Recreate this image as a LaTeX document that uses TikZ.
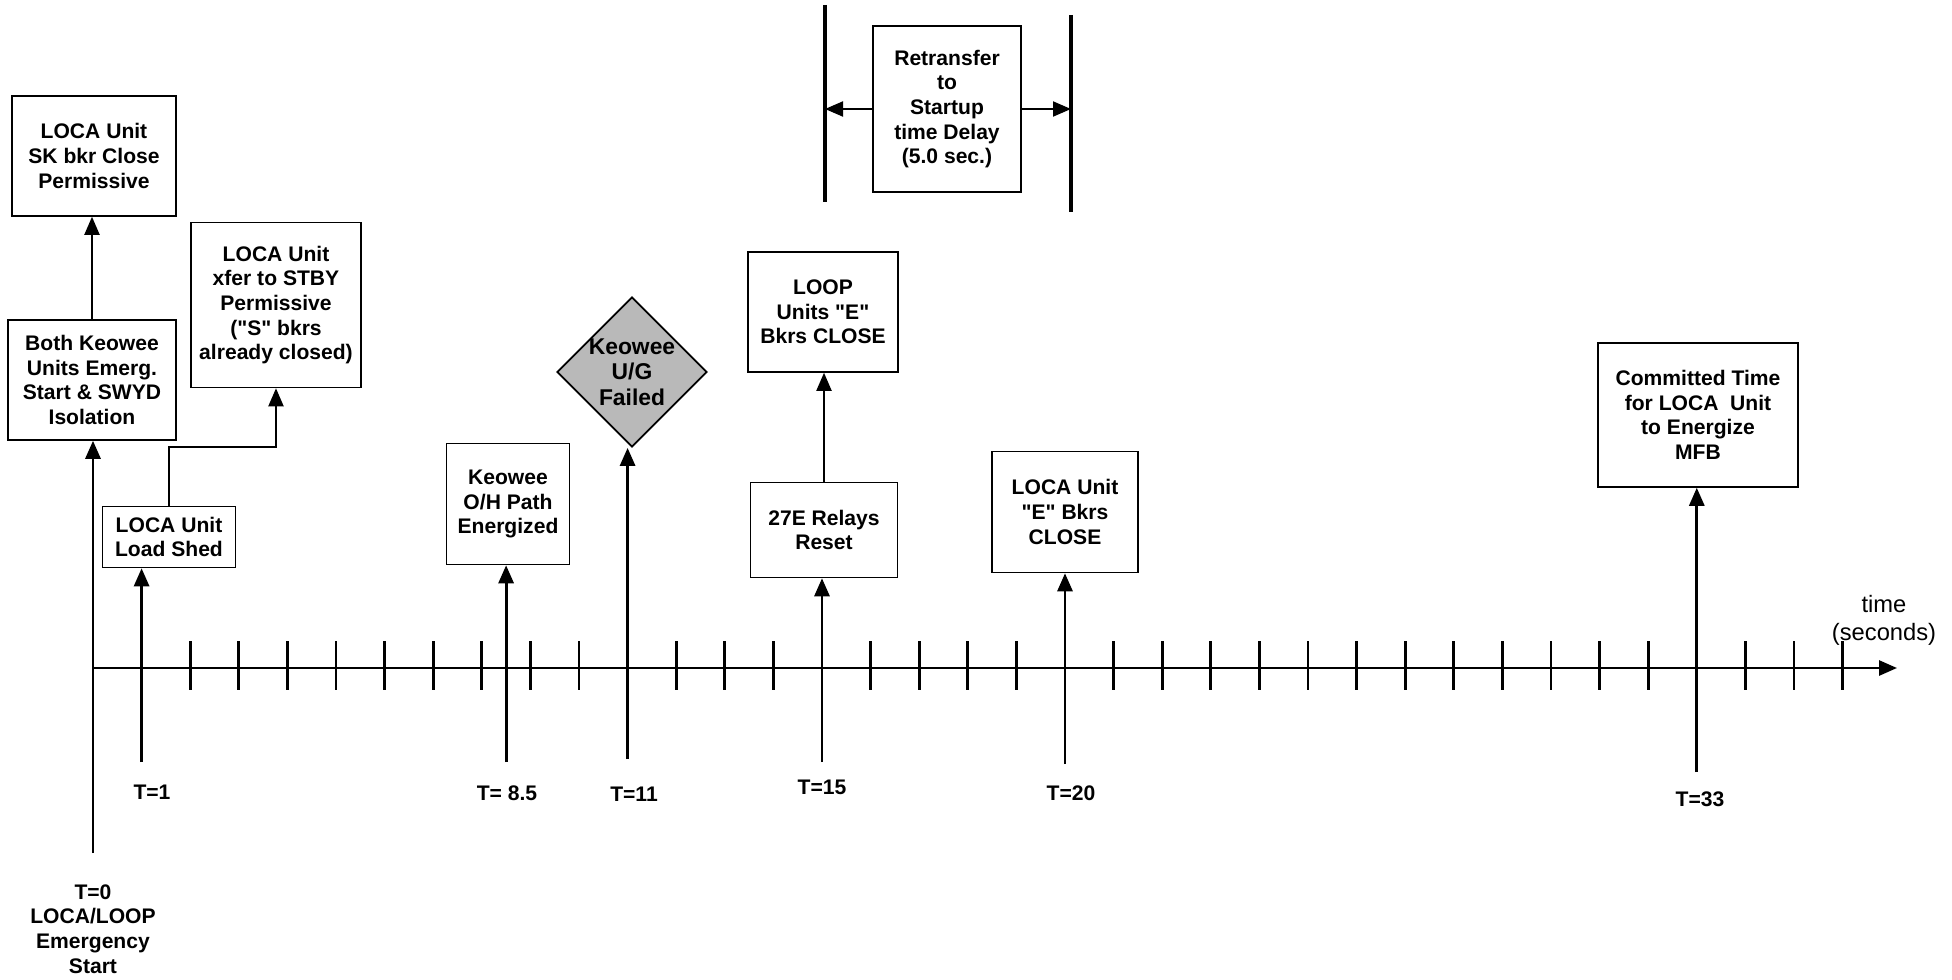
\documentclass[tikz,border=0pt]{standalone}
\usepackage{fontspec}
\newfontfamily\diagfont{Liberation Sans}
\usetikzlibrary{arrows.meta,shapes.geometric}

\begin{document}
\begin{tikzpicture}[x=0.02cm, y=-0.02cm,
                    every node/.style={font=\diagfont\fontsize{12}{14}\selectfont\bfseries, align=center},
                    box/.style={draw, line width=0.9pt, inner sep=2pt},
                    event/.style={line width=1.6pt, -{Triangle[length=0.36cm,width=0.3cm]}},
                    link/.style={line width=1.1pt, -{Triangle[length=0.36cm,width=0.3cm]}},
                    tick/.style={line width=1.5pt},
                    bar/.style={line width=2.2pt}]
                    \useasboundingbox (0,0) rectangle (1952,980);
                    \coordinate (axis-start) at (93,668);
                    \coordinate (axis-end) at (1897,668);
                    \draw[event] (axis-start) -- (axis-end);
                    \foreach \s in {2,...,10,12,13,14,16,17,18,19,21,22,...,32,34,35,36}
                        \draw[tick] ({93+48.6*\s},641) -- ({93+48.6*\s},690);
                    \foreach \name/\s/\low in {t0/0/853,t1/1/762,t85/8.5/762,t11/11/759,t15/15/762,t20/20/764,t33/33/772}
                        \coordinate (\name) at ({93+48.6*\s},\low);

                    \node[box, minimum width=3.28cm, minimum height=2.4cm] (sk) at (94,156) {LOCA Unit\\SK bkr Close\\Permissive};
                    \node[box, minimum width=3.36cm, minimum height=2.4cm] (both) at (92,380) {Both Keowee\\Units Emerg.\\Start \& SWYD\\Isolation};
                    \node[box, minimum width=3.4cm, minimum height=3.3cm] (xfer) at (276,305) {LOCA Unit\\xfer to STBY\\Permissive\\("S" bkrs\\already closed)};
                    \node[box, minimum width=2.66cm, minimum height=1.22cm] (shed) at (169,537) {LOCA Unit\\Load Shed};
                    \node[box, minimum width=2.46cm, minimum height=2.42cm] (oh) at (508,504) {Keowee\\O/H Path\\Energized};
                    \node[diamond, aspect=1, draw, line width=1pt, fill=gray!55, minimum size=3cm, inner sep=-3pt,
                          font=\diagfont\fontsize{13}{14.5}\selectfont\bfseries] (kug) at (632,372) {Keowee\\U/G\\Failed};
                    \node[box, minimum width=3cm, minimum height=2.4cm] (loop) at (823,312) {LOOP\\Units "E"\\Bkrs CLOSE};
                    \node[box, minimum width=2.94cm, minimum height=1.9cm] (relays) at (824,530) {27E Relays\\Reset};
                    \node[box, minimum width=2.92cm, minimum height=2.42cm] (ecl) at (1065,512) {LOCA Unit\\"E" Bkrs\\CLOSE};
                    \node[box, minimum width=4cm, minimum height=2.88cm] (commit) at (1698,415) {Committed Time\\for LOCA\ \ Unit\\to Energize\\MFB};
                    \node[box, minimum width=2.96cm, minimum height=3.32cm] (retr) at (947,109) {Retransfer\\to\\Startup\\time Delay\\(5.0 sec.)};

                    \draw[event] (t0) -- (t0 |- both.south);
                    \draw[event] (t1) -- (t1 |- shed.south);
                    \draw[event] (t85) -- (t85 |- oh.south);
                    \draw[event] (t11) -- (t11 |- kug.south);
                    \draw[event] (t15) -- (t15 |- relays.south);
                    \draw[event] (t20) -- (t20 |- ecl.south);
                    \draw[event] (t33) -- (t33 |- commit.south);
                    \draw[link] (both.north) -- (both.north |- sk.south);
                    \draw[link] (shed.north) -- ++(0,-59) -| (xfer.south);
                    \draw[link] (relays.north) -- (relays.north |- loop.south);

                    \coordinate (bar-l-top) at (825,5);
                    \coordinate (bar-l-bot) at (825,202);
                    \coordinate (bar-r-top) at (1071,15);
                    \coordinate (bar-r-bot) at (1071,212);
                    \draw[bar] (bar-l-top) -- (bar-l-bot);
                    \draw[bar] (bar-r-top) -- (bar-r-bot);
                    \draw[link] (retr.west) -- (retr.west -| bar-l-top);
                    \draw[link] (retr.east) -- (retr.east -| bar-r-top);

                    \node (lab-t0) at (93,929) {T=0\\LOCA/LOOP\\Emergency\\Start};
                    \node (lab-t1) at (152,792) {T=1};
                    \node (lab-t85) at (507,793) {T= 8.5};
                    \node (lab-t11) at (634,794) {T=11};
                    \node (lab-t15) at (822,787) {T=15};
                    \node (lab-t20) at (1071,793) {T=20};
                    \node (lab-t33) at (1700,799) {T=33};
                    \node[font=\diagfont\fontsize{13.5}{16}\selectfont] (axis-label) at (1884,620) {time\\(seconds)};
                \end{tikzpicture}
\end{document}
